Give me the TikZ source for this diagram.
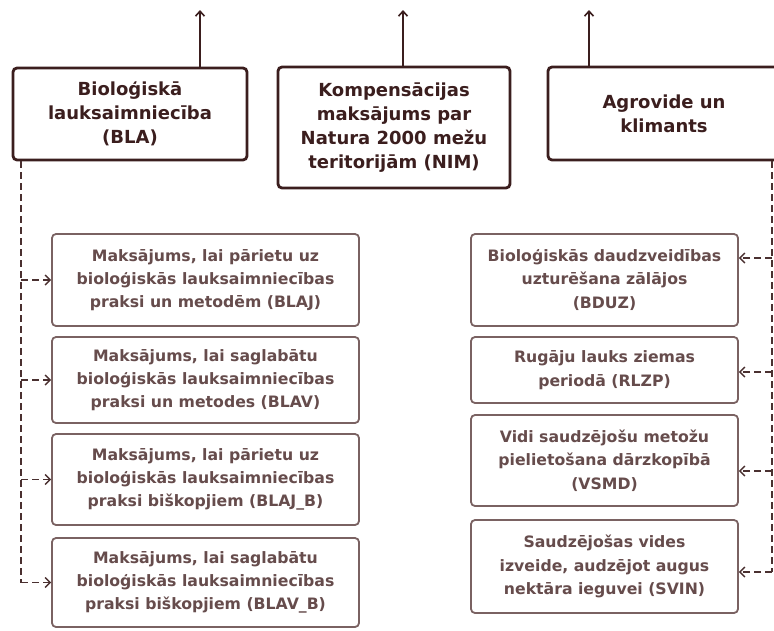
\documentclass[tikz,border=0pt]{standalone}
\usepackage{fontspec}
\setmainfont{DejaVu Sans}
\usetikzlibrary{arrows.meta,calc}
\definecolor{topc}{HTML}{3B1E1E}
\definecolor{lowc}{HTML}{7A6262}
\definecolor{lowt}{HTML}{664C4C}
\definecolor{dashc}{HTML}{4A3030}
\tikzset{
  topbox/.style={draw=topc, line width=2.8pt, rounded corners=4pt, align=center, text=topc,
    font=\fontsize{18}{24}\selectfont\bfseries, inner sep=0pt},
  lowbox/.style={draw=lowc, line width=1.8pt, rounded corners=4pt, align=center, text=lowt,
    font=\fontsize{15.7}{23.3}\selectfont\bfseries, inner sep=0pt},
  uparrow/.style={draw=topc, line width=1.6pt, -{Straight Barb[length=5pt,width=9pt,line width=1.6pt]}},
  dasharrow/.style={draw=dashc, line width=1.4pt, dash pattern=on 7pt off 4pt,
    -{Straight Barb[length=5pt,width=10pt,line width=1.4pt]}},
  dashline/.style={draw=dashc, line width=1.4pt, dash pattern=on 7pt off 4pt}
}
\begin{document}
\begin{tikzpicture}[x=1pt,y=-1pt]
\clip (0,0) rectangle (774,630);
\fill[white] (0,0) rectangle (774,630);
% top boxes
\node[topbox, minimum width=234pt, minimum height=92pt] (bla) at (130,114)
  {Bioloģiskā\\lauksaimniecība\\(BLA)};
\node[topbox, minimum width=232pt, minimum height=121pt] (nim) at (394,127.5)
  {Kompensācijas\\maksājums par\\Natura 2000 mežu\\teritorijām (NIM)};
\node[topbox, minimum width=232pt, minimum height=93pt] (ak) at (664,113.5)
  {Agrovide un\\klimants};
\coordinate (t1) at (200,10);
\coordinate (t2) at (403,10);
\coordinate (t3) at (589,10);
\draw[uparrow] (t1 |- bla.north) -- (t1);
\draw[uparrow] (t2 |- nim.north) -- (t2);
\draw[uparrow] (t3 |- ak.north) -- (t3);
% left boxes
\node[lowbox, minimum width=307pt, minimum height=92pt] (l1) at (205.5,280)
  {Maksājums, lai pārietu uz\\bioloģiskās lauksaimniecības\\praksi un metodēm (BLAJ)};
\node[lowbox, minimum width=307pt, minimum height=86pt] (l2) at (205.5,380)
  {Maksājums, lai saglabātu\\bioloģiskās lauksaimniecības\\praksi un metodes (BLAV)};
\node[lowbox, minimum width=307pt, minimum height=91pt] (l3) at (205.5,479.5)
  {Maksājums, lai pārietu uz\\bioloģiskās lauksaimniecības\\praksi biškopjiem (BLAJ\_B)};
\node[lowbox, minimum width=307pt, minimum height=89pt] (l4) at (205.5,582.5)
  {Maksājums, lai saglabātu\\bioloģiskās lauksaimniecības\\praksi biškopjiem (BLAV\_B)};
% right boxes
\node[lowbox, minimum width=267pt, minimum height=92pt] (r1) at (604.5,280)
  {Bioloģiskās daudzveidības\\uzturēšana zālājos\\(BDUZ)};
\node[lowbox, minimum width=267pt, minimum height=66pt] (r2) at (604.5,370)
  {Rugāju lauks ziemas\\periodā (RLZP)};
\node[lowbox, minimum width=267pt, minimum height=91pt] (r3) at (604.5,460.5)
  {Vidi saudzējošu metožu\\pielietošana dārzkopībā\\(VSMD)};
\node[lowbox, minimum width=267pt, minimum height=93pt] (r4) at (604.5,566.5)
  {Saudzējošas vides\\izveide, audzējot augus\\nektāra ieguvei (SVIN)};
% left dashed tree
\coordinate (lv) at (21,160);
\coordinate (lend) at (21,582.5);
\draw[dashline] (lv |- bla.south) -- (lend);
\draw[dasharrow] (l1.west -| lv) -- (l1.west);
\draw[dasharrow] (l2.west -| lv) -- (l2.west);
\draw[dasharrow] (l3.west -| lv) -- (l3.west);
\draw[dasharrow] (l4.west -| lv) -- (l4.west);
% right dashed tree
\coordinate (rv) at (772,160);
\coordinate (rb1) at ($(r1.east)+(0,-22)$);
\coordinate (rb2) at ($(r2.east)+(0,2)$);
\coordinate (rb3) at ($(r3.east)+(0,10.5)$);
\coordinate (rb4) at ($(r4.east)+(0,5.5)$);
\draw[dashline] (rv |- ak.south) -- (rv |- rb4);
\draw[dasharrow] (rb1 -| rv) -- (rb1);
\draw[dasharrow] (rb2 -| rv) -- (rb2);
\draw[dasharrow] (rb3 -| rv) -- (rb3);
\draw[dasharrow] (rb4 -| rv) -- (rb4);
\end{tikzpicture}
\end{document}
